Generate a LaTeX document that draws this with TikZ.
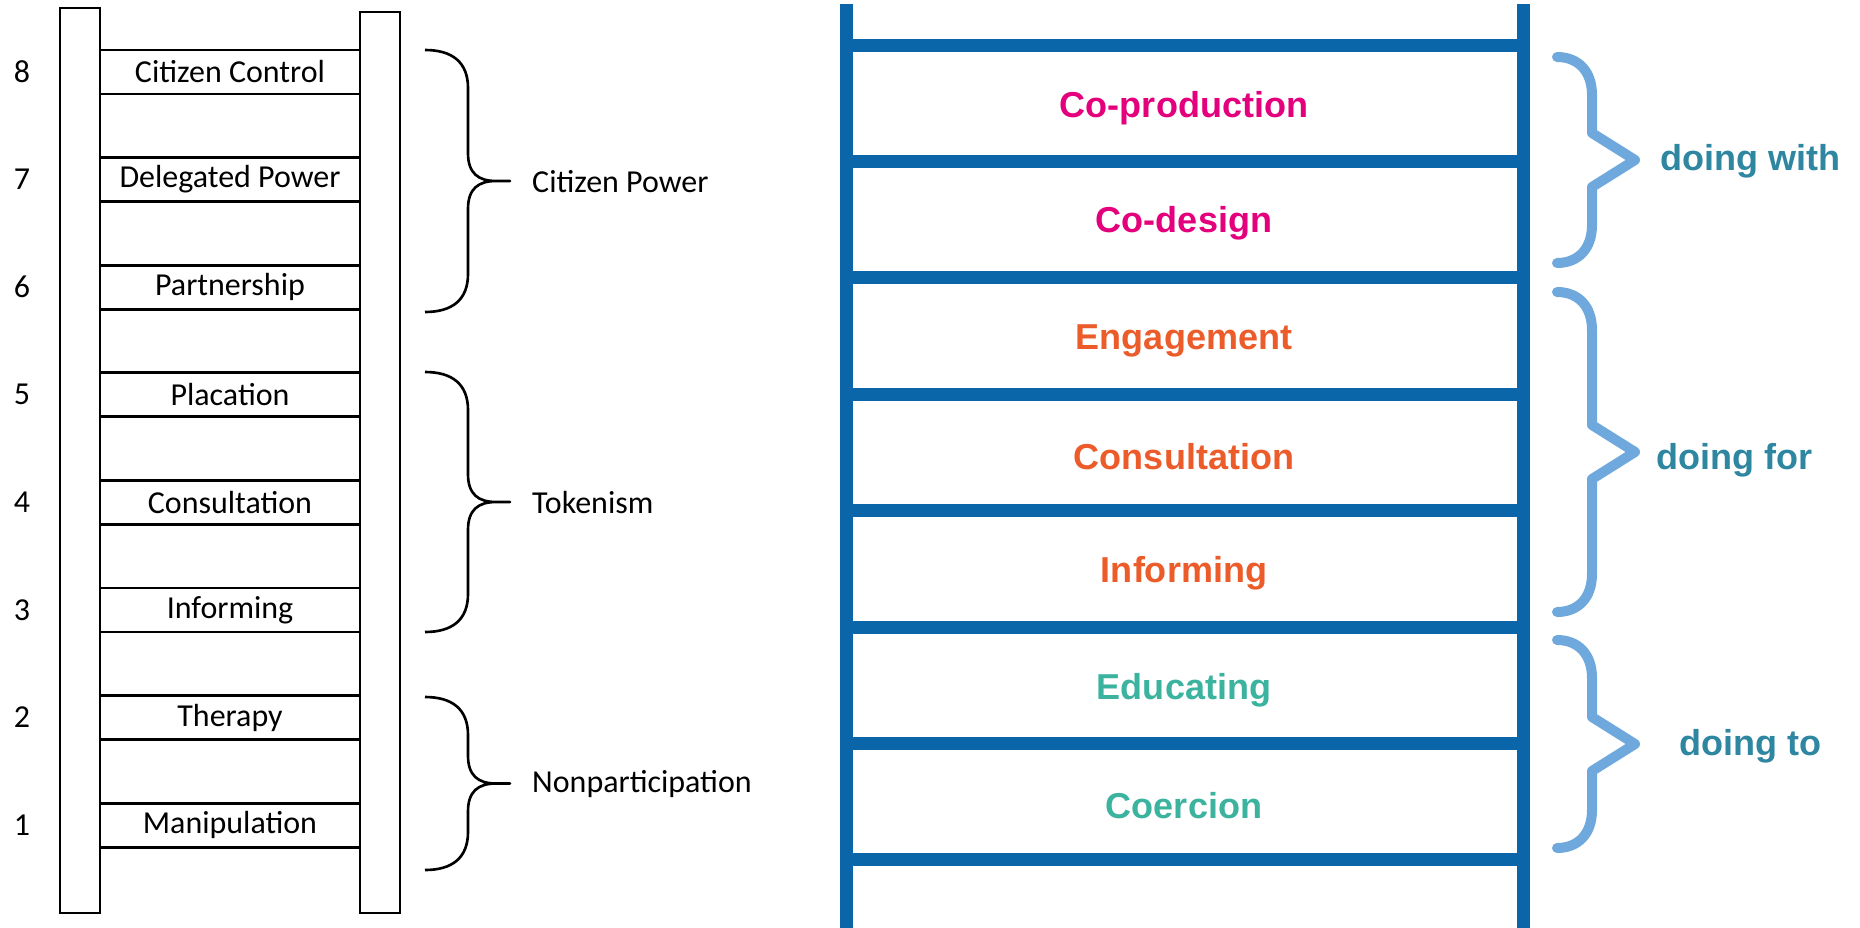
\documentclass[tikz,border=0pt]{standalone}
\usepackage{fontspec}
\setmainfont{Carlito}
\newfontfamily\arialfont{Liberation Sans}

\definecolor{ladderblue}{HTML}{0A66A8}
\definecolor{bracelight}{HTML}{6FA8DC}
\definecolor{doingteal}{HTML}{2E86A1}
\definecolor{withpink}{HTML}{E4007C}
\definecolor{fororange}{HTML}{EC5B2A}
\definecolor{toteal}{HTML}{3BB39E}

\tikzset{
  rail/.style={draw, line width=1.6pt},
  rung/.style={draw, line width=1.6pt, minimum width=5.2cm, minimum height=0.88cm, inner sep=0pt},
  arnstein/.style={font=\fontsize{18.2}{22}\selectfont},
  thinbrace/.style={draw, line width=1.5pt, line join=round},
  ladder/.style={draw=ladderblue, line width=7.4pt},
  bluebrace/.style={draw=bracelight, line width=5.7pt, line cap=round, line join=round},
  rungtext/.style={font=\arialfont\bfseries\fontsize{20.5}{24}\selectfont},
  doing/.style={font=\arialfont\bfseries\fontsize{20.5}{24}\selectfont, text=doingteal}
}

% #1 = top, #2 = bottom (pixels)
\newcommand{\arnbrace}[2]{%
  \draw[thinbrace] (425,#1) .. controls (452,#1) and (468,{#1+12}) .. (468,{#1+38})
    -- (468,{(#1+#2)/2-28}) .. controls (468,{(#1+#2)/2-8}) and (478,{(#1+#2)/2}) .. (496,{(#1+#2)/2})
    -- (510,{(#1+#2)/2}) -- (496,{(#1+#2)/2})
    .. controls (478,{(#1+#2)/2}) and (468,{(#1+#2)/2+8}) .. (468,{(#1+#2)/2+28})
    -- (468,{#2-38}) .. controls (468,{#2-12}) and (452,#2) .. (425,#2);}
\newcommand{\doingbrace}[2]{%
  \draw[bluebrace] (1557,#1) .. controls (1578,#1) and (1592,{#1+14}) .. (1592,{#1+38})
    -- (1592,{(#1+#2)/2-27}) -- (1635,{(#1+#2)/2}) -- (1592,{(#1+#2)/2+27})
    -- (1592,{#2-38}) .. controls (1592,{#2-14}) and (1578,#2) .. (1557,#2);}

\begin{document}
\begin{tikzpicture}[x=0.02cm, y=-0.02cm]
  \useasboundingbox (0,0) rectangle (1860,927);

  % Arnstein ladder
  \draw[rail] (60,8) rectangle (100,913);
  \draw[rail] (360,12) rectangle (400,913);
  \foreach \k/\t in {8/Citizen Control, 7/Delegated Power, 6/Partnership, 5/Placation,
                     4/Consultation, 3/Informing, 2/Therapy, 1/Manipulation} {
    \node[rung, arnstein] (r\k) at (230, {72+(8-\k)*107.6}) {\t};
    \node[arnstein] (n\k) at (22, {72+(8-\k)*107.6}) {\k};
  }

  \arnbrace{50}{312}
  \arnbrace{372}{632}
  \arnbrace{697}{870}
  \node[arnstein, anchor=west] (cpower) at (526,182) {Citizen Power};
  \node[arnstein, anchor=west] (token) at (526,503) {Tokenism};
  \node[arnstein, anchor=west] (nonpart) at (526,784) {Nonparticipation};

  % blue ladder
  \draw[ladder] (846,4) -- (846,935);
  \draw[ladder] (1523,4) -- (1523,935);
  \foreach \k in {0,...,7}
    \draw[ladder] (846, {45+116.4*\k}) -- (1523, {45+116.4*\k});

  \node[rungtext, text=withpink] (coprod) at (1184,108) {Co-production};
  \node[rungtext, text=withpink] (codesign) at (1184,223) {Co-design};
  \node[rungtext, text=fororange] (engage) at (1184,341) {Engagement};
  \node[rungtext, text=fororange] (consult) at (1184,457) {Consultation};
  \node[rungtext, text=fororange] (inform) at (1184,573) {Informing};
  \node[rungtext, text=toteal] (educate) at (1184,690) {Educating};
  \node[rungtext, text=toteal] (coerce) at (1184,806) {Coercion};

  \doingbrace{57}{263}
  \doingbrace{292}{612}
  \doingbrace{640}{848}
  \node[doing] (dwith) at (1750,161) {doing with};
  \node[doing] (dfor) at (1734,460) {doing for};
  \node[doing] (dto) at (1750,746) {doing to};
\end{tikzpicture}
\end{document}
